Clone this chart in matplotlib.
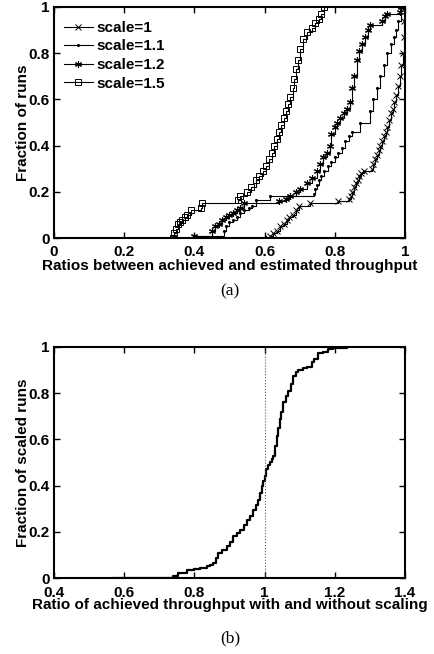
import numpy as np
import matplotlib
matplotlib.use('Agg')
import matplotlib.pyplot as plt

plt.rcParams['font.family'] = ['Liberation Sans', 'DejaVu Sans']
plt.rcParams['font.weight'] = 'bold'

# (a) CDF of achieved / estimated throughput for different scale factors
s10_x = [0.61, 0.615, 0.625, 0.635, 0.645, 0.655, 0.663, 0.67, 0.68, 0.69, 0.697, 0.73, 0.81,
         0.84, 0.845, 0.85, 0.855, 0.86, 0.865, 0.87, 0.875, 0.882, 0.906, 0.91, 0.915, 0.92,
         0.925, 0.93, 0.935, 0.94, 0.945, 0.95, 0.955, 0.96, 0.965, 0.97, 0.975, 0.98, 0.985,
         0.99, 0.993, 0.996, 0.998, 1.0]
s10_y = [0.0, 0.01, 0.02, 0.03, 0.05, 0.06, 0.08, 0.09, 0.10, 0.12, 0.14, 0.15, 0.16,
         0.17, 0.18, 0.20, 0.22, 0.24, 0.25, 0.27, 0.28, 0.29, 0.30, 0.32, 0.34, 0.36,
         0.38, 0.40, 0.42, 0.44, 0.46, 0.48, 0.51, 0.54, 0.56, 0.59, 0.62, 0.66, 0.70,
         0.75, 0.80, 0.87, 0.94, 1.0]

s11_x = [0.40, 0.485, 0.49, 0.50, 0.51, 0.52, 0.53, 0.54, 0.555, 0.565, 0.575, 0.615, 0.74,
         0.745, 0.75, 0.755, 0.76, 0.77, 0.78, 0.79, 0.80, 0.81, 0.82, 0.83, 0.84, 0.85,
         0.872, 0.90, 0.91, 0.92, 0.93, 0.94, 0.95, 0.96, 0.97, 0.975, 0.98, 0.99]
s11_y = [0.01, 0.03, 0.05, 0.07, 0.08, 0.09, 0.11, 0.12, 0.13, 0.14, 0.165, 0.18, 0.19,
         0.21, 0.23, 0.25, 0.27, 0.29, 0.31, 0.33, 0.35, 0.37, 0.39, 0.42, 0.44, 0.46,
         0.50, 0.55, 0.60, 0.65, 0.70, 0.75, 0.80, 0.84, 0.87, 0.90, 0.94, 1.0]

s12_x = [0.40, 0.45, 0.46, 0.47, 0.48, 0.49, 0.50, 0.51, 0.52, 0.53, 0.54, 0.64, 0.66,
         0.672, 0.69, 0.70, 0.72, 0.735, 0.748, 0.758, 0.767, 0.777, 0.786, 0.79, 0.80,
         0.805, 0.815, 0.825, 0.834, 0.843, 0.848, 0.855, 0.862, 0.87, 0.877, 0.885, 0.895,
         0.90, 0.934, 0.943, 0.948, 0.986, 0.99]
s12_y = [0.01, 0.03, 0.05, 0.06, 0.08, 0.09, 0.10, 0.11, 0.12, 0.13, 0.15, 0.16, 0.17,
         0.18, 0.20, 0.21, 0.24, 0.26, 0.29, 0.32, 0.35, 0.37, 0.40, 0.45, 0.48,
         0.50, 0.52, 0.54, 0.56, 0.59, 0.65, 0.70, 0.77, 0.81, 0.84, 0.87, 0.90,
         0.92, 0.94, 0.96, 0.97, 0.98, 1.0]

s15_x = [0.34, 0.343, 0.347, 0.352, 0.358, 0.365, 0.372, 0.38, 0.39, 0.42, 0.423, 0.525,
         0.53, 0.55, 0.56, 0.575, 0.585, 0.595, 0.605, 0.612, 0.62, 0.628, 0.635, 0.642,
         0.648, 0.655, 0.66, 0.667, 0.673, 0.68, 0.685, 0.69, 0.695, 0.70, 0.71, 0.72,
         0.735, 0.745, 0.755, 0.762, 0.768]
s15_y = [0.0, 0.02, 0.04, 0.06, 0.07, 0.08, 0.09, 0.10, 0.12, 0.13, 0.15, 0.165,
         0.18, 0.20, 0.22, 0.25, 0.27, 0.29, 0.31, 0.34, 0.37, 0.40, 0.43, 0.46,
         0.49, 0.52, 0.55, 0.58, 0.61, 0.65, 0.69, 0.73, 0.77, 0.82, 0.86, 0.89,
         0.91, 0.93, 0.95, 0.97, 1.0]

# (b) CDF of throughput ratio with / without scaling
b_x = [0.57, 0.74, 0.754, 0.778, 0.80, 0.816, 0.835, 0.845, 0.854, 0.862, 0.868, 0.88,
       0.892, 0.90, 0.911, 0.92, 0.93, 0.94, 0.949, 0.958, 0.968, 0.975, 0.982, 0.988,
       0.992, 0.996, 1.0, 1.005, 1.01, 1.015, 1.02, 1.025, 1.03, 1.034, 1.039, 1.044,
       1.048, 1.053, 1.06, 1.068, 1.075, 1.082, 1.09, 1.096, 1.11, 1.12, 1.134, 1.14,
       1.153, 1.165, 1.182, 1.196, 1.234]
b_y = [0.0, 0.007, 0.02, 0.036, 0.04, 0.043, 0.05, 0.057, 0.065, 0.085, 0.108, 0.12,
       0.137, 0.155, 0.18, 0.195, 0.209, 0.23, 0.25, 0.27, 0.295, 0.315, 0.339, 0.37,
       0.397, 0.42, 0.44, 0.47, 0.49, 0.502, 0.515, 0.53, 0.57, 0.616, 0.65, 0.69,
       0.72, 0.76, 0.79, 0.81, 0.84, 0.873, 0.89, 0.90, 0.91, 0.915, 0.937, 0.95,
       0.974, 0.98, 0.99, 0.996, 1.0]

fs = 11

fig = plt.figure(figsize=(4.35, 6.54), dpi=100)
ax1 = fig.add_axes([54 / 435, 1 - 238 / 654, 351 / 435, 231 / 654])
ax2 = fig.add_axes([54 / 435, 1 - 578 / 654, 351 / 435, 231 / 654])

asterisk = (6, 2, 0)
ax1.plot(s10_x, s10_y, drawstyle='steps-post', color='k', lw=0.8, marker='x', ms=4,
         mew=0.7, label='scale=1')
ax1.plot(s11_x, s11_y, drawstyle='steps-post', color='k', lw=0.8, marker='.', ms=2.5,
         label='scale=1.1')
ax1.plot(s12_x, s12_y, drawstyle='steps-post', color='k', lw=0.8, marker=asterisk, ms=5,
         mew=0.8, label='scale=1.2')
ax1.plot(s15_x, s15_y, drawstyle='steps-post', color='k', lw=0.8, marker='s', ms=4.5,
         mfc='none', mew=0.7, label='scale=1.5')

ax1.set_xlim(0, 1)
ax1.set_ylim(0, 1)
ax1.set_xticks([0, 0.2, 0.4, 0.6, 0.8, 1])
ax1.set_xticklabels(['0', '0.2', '0.4', '0.6', '0.8', '1'])
ax1.set_yticks([0, 0.2, 0.4, 0.6, 0.8, 1])
ax1.set_yticklabels(['0', '0.2', '0.4', '0.6', '0.8', '1'])
ax1.set_xlabel('Ratios between achieved and estimated throughput', fontsize=fs,
               fontweight='bold', labelpad=0)
ax1.set_ylabel('Fraction of runs', fontsize=fs, fontweight='bold', labelpad=-1)
ax1.legend(loc='upper left', bbox_to_anchor=(0.028, 0.94), frameon=False, fontsize=fs,
           handlelength=1.9, handletextpad=0.25, labelspacing=0.3, borderaxespad=0,
           borderpad=0)

ax2.plot(b_x, b_y, drawstyle='steps-post', color='k', lw=1.6)
ax2.axvline(1.0, color='#555555', ls=':', lw=0.8)
ax2.set_xlim(0.4, 1.4)
ax2.set_ylim(0, 1)
ax2.set_xticks([0.4, 0.6, 0.8, 1.0, 1.2, 1.4])
ax2.set_xticklabels(['0.4', '0.6', '0.8', '1', '1.2', '1.4'])
ax2.set_yticks([0, 0.2, 0.4, 0.6, 0.8, 1])
ax2.set_yticklabels(['0', '0.2', '0.4', '0.6', '0.8', '1'])
ax2.set_xlabel('Ratio of achieved throughput with and without scaling', fontsize=fs,
               fontweight='bold', labelpad=-1)
ax2.set_ylabel('Fraction of scaled runs', fontsize=fs, fontweight='bold', labelpad=-1)

for ax in (ax1, ax2):
    for sp in ax.spines.values():
        sp.set_linewidth(1.5)
    ax.tick_params(direction='in', top=True, right=True, length=4, width=1,
                   labelsize=fs)
    ax.tick_params(axis='y', pad=3)

ax1.tick_params(axis='x', pad=5)
ax2.tick_params(axis='x', pad=5.5)

fig.text(230 / 435, 1 - 291 / 654, '(a)', ha='center', va='center', fontsize=12.5,
         family='Liberation Serif', fontweight='normal')
fig.text(230 / 435, 1 - 638 / 654, '(b)', ha='center', va='center', fontsize=12.5,
         family='Liberation Serif', fontweight='normal')

fig.savefig('out.png', dpi=100)
